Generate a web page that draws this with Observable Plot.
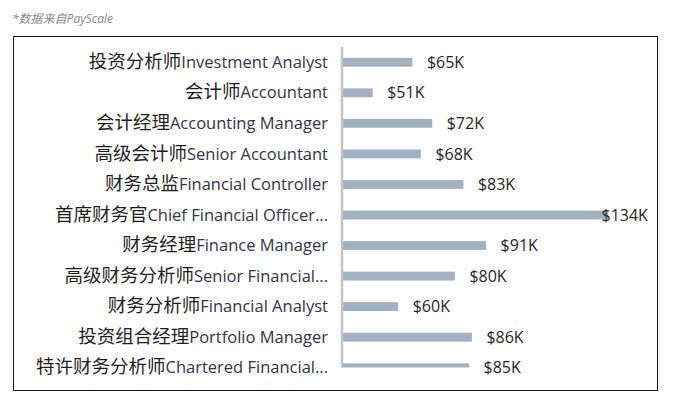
<!DOCTYPE html>
<html><head><meta charset="utf-8">
<script src="https://cdn.jsdelivr.net/npm/d3@7"></script>
<script src="https://cdn.jsdelivr.net/npm/@observablehq/plot@0.6"></script>
<style>
body{margin:0;background:#fff;width:674px;height:406px;position:relative;overflow:hidden}
#cap{position:absolute;left:12px;top:11px;font:italic 12px "Open Sans","Noto Sans CJK SC",sans-serif;color:#8a8a8a;line-height:16px}
#box{position:absolute;left:13px;top:36px;width:645px;height:355px;box-sizing:border-box;border:1.5px solid #1b1b1b;background:#fff}
#box svg{display:block}
</style></head><body>
<div id="cap">*数据来自PayScale</div>
<div id="box"></div>
<script>
const titlesZh = ["投资分析师","会计师","会计经理","高级会计师","财务总监","首席财务官","财务经理","高级财务分析师","财务分析师","投资组合经理","特许财务分析师"];
const titlesEn = ["Investment Analyst","Accountant","Accounting Manager","Senior Accountant","Financial Controller","Chief Financial Officer...","Finance Manager","Senior Financial...","Financial Analyst","Portfolio Manager","Chartered Financial..."];
const salaryK = [65,51,72,68,83,134,91,80,60,86,85];

const categories = titlesZh.map((z,i)=>z+titlesEn[i]);
const data = categories.map((c,i)=>({title:c, value:salaryK[i]}));
const maxV = d3.max(salaryK);
const fmt = d => "$" + d.value + "K";

const chart = Plot.plot({
  width: 642, height: 352,
  marginLeft: 327.5, marginRight: 31, marginTop: 10, marginBottom: 21.5,
  x: {domain:[40,140], axis:null},
  y: {domain: categories, range: [10, 346], paddingInner: 0.71, paddingOuter: 0.355, round: false, axis: null, label: null},
  style: {background:"transparent", overflow:"visible", fontFamily:"'Open Sans','Noto Sans CJK SC',sans-serif"},
  marks: [
    Plot.barX(data, {x1: 40, x2: "value", y: "title", fill: "#a2b1c1", clip: true}),
    Plot.ruleX([40], {stroke: "#c4c4c4", strokeWidth: 2.5}),
    Plot.axisY({tickSize: 0, tickPadding: 14, fontSize: 16, fill: "#222", label: null}),
    Plot.text(data.filter(d => d.value < maxV), {x: "value", y: "title", text: fmt, textAnchor: "start", dx: 14, fontSize: 16, fill: "#262626"}),
    Plot.text(data.filter(d => d.value === maxV), {x: "value", y: "title", text: fmt, textAnchor: "start", dx: -7, fontSize: 16, fill: "#262626"})
  ]
});

const NS = "http://www.w3.org/2000/svg";
chart.querySelectorAll('g[aria-label="y-axis tick label"] text').forEach(t => {
  const i = categories.indexOf(t.textContent);
  if (i < 0) return;
  t.textContent = "";
  const a = document.createElementNS(NS, "tspan");
  a.setAttribute("font-family", "'Noto Sans CJK SC',sans-serif");
  a.setAttribute("font-size", "18.5");
  a.setAttribute("fill", "#1e1e1e");
  a.textContent = titlesZh[i];
  const b = document.createElementNS(NS, "tspan");
  b.setAttribute("font-family", "'Open Sans',sans-serif");
  b.setAttribute("font-size", "16.5");
  b.setAttribute("fill", "#34344a");
  b.textContent = titlesEn[i];
  t.appendChild(a); t.appendChild(b);
});

document.getElementById("box").appendChild(chart);
</script>
</body></html>
